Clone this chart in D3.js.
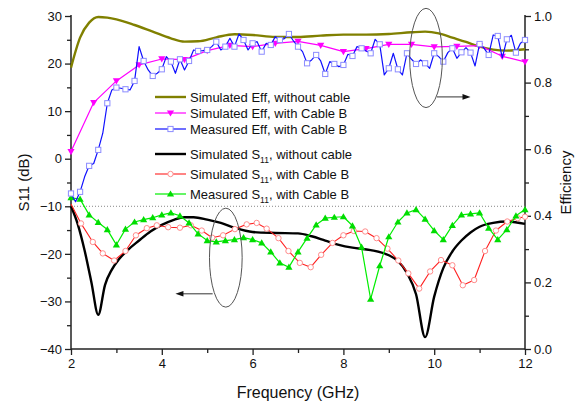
<!DOCTYPE html>
<html><head><meta charset="utf-8">
<script src="https://cdn.jsdelivr.net/npm/d3@7"></script>
<style>body{margin:0;background:#fff}svg{display:block;font-family:"Liberation Sans",Arial,sans-serif}</style>
</head><body><svg id="c" width="579" height="409"></svg>
<script>
// ---- data ----
const xTicks = [2,4,6,8,10,12];
const xMinor = [3,5,7,9,11];
const yLTicks = [-40,-30,-20,-10,0,10,20,30];
const yLMinor = [-35,-25,-15,-5,5,15,25];
const yRTicks = [0,0.2,0.4,0.6,0.8,1.0];
const yRMinor = [0.1,0.3,0.5,0.7,0.9];

// Simulated Eff, without cable (efficiency)
const effNoCableF = [2.0,2.2,2.4,2.6,2.8,3.0,3.4,3.8,4.2,4.5,4.8,5.2,5.6,6.0,6.5,7.0,7.5,8.0,8.5,9.0,9.5,9.8,10.1,10.4,10.7,11.0,11.3,11.6,12.0];
const effNoCable  = [0.845,0.935,0.980,0.997,0.995,0.990,0.973,0.953,0.933,0.923,0.924,0.936,0.945,0.943,0.937,0.937,0.941,0.944,0.944,0.946,0.951,0.953,0.948,0.935,0.922,0.908,0.899,0.896,0.900];

// Simulated Eff, with Cable B
const effSimBF = [2.0,2.5,3.0,3.5,4.0,4.5,5.0,5.5,6.0,6.5,7.0,7.5,8.0,8.5,9.0,9.5,10.0,10.5,11.0,11.5,12.0];
const effSimB  = [0.593,0.740,0.805,0.853,0.871,0.869,0.896,0.912,0.908,0.918,0.924,0.912,0.893,0.902,0.915,0.915,0.907,0.909,0.911,0.879,0.862];

// Measured Eff, with Cable B
const effMeasBF = [2.0,2.1,2.2,2.3,2.4,2.5,2.6,2.7,2.8,2.9,3.0,3.1,3.2,3.3,3.4,3.5,3.6,3.7,3.8,3.9,4.0,4.1,4.2,4.3,4.4,4.5,4.6,4.7,4.8,4.9,5.0,5.1,5.2,5.3,5.4,5.5,5.6,5.7,5.8,5.9,6.0,6.1,6.2,6.3,6.4,6.5,6.6,6.7,6.8,6.9,7.0,7.1,7.2,7.3,7.4,7.5,7.6,7.7,7.8,7.9,8.0,8.1,8.2,8.3,8.4,8.5,8.6,8.7,8.8,8.9,9.0,9.1,9.2,9.3,9.4,9.5,9.6,9.7,9.8,9.9,10.0,10.1,10.2,10.3,10.4,10.5,10.6,10.7,10.8,10.9,11.0,11.1,11.2,11.3,11.4,11.5,11.6,11.7,11.8,11.9,12.0];
const effMeasB  = [0.467,0.442,0.472,0.517,0.550,0.557,0.598,0.648,0.738,0.778,0.785,0.783,0.780,0.778,0.805,0.908,0.865,0.838,0.820,0.828,0.840,0.878,0.863,0.828,0.870,0.838,0.865,0.898,0.895,0.896,0.898,0.908,0.923,0.898,0.908,0.933,0.908,0.946,0.928,0.898,0.918,0.923,0.893,0.918,0.913,0.938,0.928,0.932,0.946,0.925,0.908,0.893,0.858,0.868,0.883,0.865,0.826,0.863,0.856,0.848,0.853,0.885,0.880,0.908,0.903,0.895,0.888,0.930,0.915,0.823,0.843,0.888,0.840,0.823,0.888,0.870,0.856,0.868,0.858,0.843,0.888,0.878,0.863,0.890,0.903,0.873,0.891,0.905,0.890,0.850,0.916,0.903,0.883,0.943,0.940,0.874,0.930,0.942,0.890,0.918,0.928];

// Simulated S11, without cable (dB)
const s11NoCableF = [2.0,2.15,2.3,2.45,2.6,2.75,2.9,3.05,3.25,3.5,3.75,4.0,4.25,4.5,4.7,5.0,5.3,5.6,6.0,6.5,7.0,7.3,7.6,7.9,8.2,8.6,9.0,9.2,9.4,9.6,9.8,10.0,10.2,10.4,10.6,10.8,11.0,11.3,11.6,12.0];
const s11NoCable  = [-10.0,-13.8,-19.3,-26.0,-32.8,-26.5,-23.3,-21.2,-19.2,-17.2,-15.3,-13.9,-12.9,-12.3,-12.3,-12.8,-13.5,-14.5,-15.4,-15.6,-15.7,-16.3,-17.2,-18.1,-18.7,-19.2,-20.3,-21.5,-24.0,-28.5,-37.5,-29.0,-23.0,-19.5,-17.2,-15.5,-14.3,-13.5,-13.2,-13.7];

// Simulated S11, with Cable B
const s11SimBF = [2.0,2.22,2.48,2.70,2.95,3.20,3.43,3.67,3.89,4.14,4.40,4.64,4.88,5.11,5.35,5.61,5.87,6.09,6.31,6.57,6.79,7.04,7.28,7.51,7.76,8.00,8.23,8.48,8.73,8.97,9.21,9.43,9.67,9.91,10.15,10.40,10.63,10.88,11.12,11.36,11.61,11.84,12.0];
const s11SimB  = [-9.5,-13.6,-17.5,-19.9,-21.4,-19.4,-16.1,-14.6,-14.0,-14.4,-14.5,-14.0,-15.1,-16.6,-16.1,-14.8,-13.8,-13.5,-14.7,-16.7,-19.4,-21.9,-22.8,-20.2,-17.7,-16.1,-15.2,-15.3,-16.7,-18.9,-21.4,-24.1,-27.3,-23.7,-21.3,-22.4,-26.6,-25.5,-19.4,-15.1,-13.2,-12.5,-12.2];

// Measured S11, with Cable B
const s11MeasBF = [2.0,2.2,2.4,2.6,2.8,3.0,3.2,3.4,3.6,3.8,4.0,4.2,4.4,4.6,4.8,5.0,5.2,5.4,5.6,5.8,6.0,6.2,6.4,6.6,6.8,7.0,7.2,7.4,7.6,7.8,8.0,8.2,8.4,8.6,8.8,9.0,9.2,9.4,9.6,9.8,10.0,10.2,10.4,10.6,10.8,11.0,11.2,11.4,11.6,11.8,12.0];
const s11MeasB  = [-8.2,-8.5,-11.8,-13.4,-14.9,-18.1,-14.8,-13.3,-12.8,-12.4,-11.8,-11.4,-12.0,-13.5,-15.8,-17.2,-17.5,-17.2,-17.0,-16.6,-17.0,-17.7,-19.6,-21.9,-22.8,-19.6,-16.7,-13.9,-12.5,-12.3,-12.2,-14.1,-18.6,-29.5,-22.5,-16.4,-13.3,-11.4,-10.7,-12.7,-15.1,-17.0,-14.0,-11.8,-11.6,-11.4,-14.6,-17.0,-14.9,-12.0,-10.7];

const legendLabels = [
  ["Simulated Eff, without cable"],
  ["Simulated Eff, with Cable B"],
  ["Measured Eff, with Cable B"],
  ["Simulated S", "11", ", without cable"],
  ["Simulated S", "11", ", with Cable B"],
  ["Measured S", "11", ", with Cable B"]
];

// ---- scales ----
const svg = d3.select("#c");
const x = d3.scaleLinear().domain([2,12]).range([71,525]);
const yL = d3.scaleLinear().domain([-40,30]).range([349,16]);
const yR = d3.scaleLinear().domain([0,1]).range([349,16]);

const axisColor = "#222";
function styleAxis(g){
  g.select(".domain").remove();
  g.selectAll("line").attr("stroke",axisColor).attr("stroke-width",1.3);
  g.selectAll("text").attr("fill","#111").style("font-size","13px").style("font-family","'Liberation Sans',Arial,sans-serif");
}
// left
svg.append("g").attr("transform","translate(71,0)").call(d3.axisLeft(yL).tickValues(yLTicks).tickSize(6).tickPadding(3)).call(styleAxis);
svg.append("g").attr("transform","translate(71,0)").call(d3.axisLeft(yL).tickValues(yLMinor).tickSize(4).tickFormat("")).call(styleAxis);
// bottom
svg.append("g").attr("transform","translate(0,349)").call(d3.axisBottom(x).tickValues(xTicks).tickSize(6).tickPadding(4)).call(styleAxis);
svg.append("g").attr("transform","translate(0,349)").call(d3.axisBottom(x).tickValues(xMinor).tickSize(4).tickFormat("")).call(styleAxis);
// right
svg.append("g").attr("transform","translate(525,0)").call(d3.axisRight(yR).tickValues(yRTicks).tickSize(6).tickPadding(3).tickFormat(d3.format(".1f"))).call(styleAxis);
svg.append("g").attr("transform","translate(525,0)").call(d3.axisRight(yR).tickValues(yRMinor).tickSize(4).tickFormat("")).call(styleAxis);

// axis lines
svg.append("line").attr("x1",x(2)).attr("x2",x(2)).attr("y1",yL(30)-1).attr("y2",yL(-40)+0.6).attr("stroke",axisColor).attr("stroke-width",1.5);
svg.append("line").attr("x1",x(12)).attr("x2",x(12)).attr("y1",yR(1)-1).attr("y2",yR(0)+0.6).attr("stroke",axisColor).attr("stroke-width",1.5);
svg.append("line").attr("x1",x(2)).attr("x2",x(12)).attr("y1",yL(-40)).attr("y2",yL(-40)).attr("stroke",axisColor).attr("stroke-width",1.5);

// -10 dB dotted reference
svg.append("line").attr("x1",x(2)).attr("x2",x(12)).attr("y1",yL(-10)).attr("y2",yL(-10))
  .attr("stroke","#888").attr("stroke-width",1).attr("stroke-dasharray","1,2");

// axis titles
svg.append("text").attr("transform",`translate(29,${(yL(30)+yL(-40))/2}) rotate(-90)`).attr("text-anchor","middle")
  .style("font-size","15px").attr("fill","#111").text("S11 (dB)");
svg.append("text").attr("transform",`translate(571,${(yR(1)+yR(0))/2}) rotate(-90)`).attr("text-anchor","middle")
  .style("font-size","15px").attr("fill","#111").text("Efficiency");
svg.append("text").attr("x",(x(2)+x(12))/2).attr("y",398).attr("text-anchor","middle")
  .style("font-size","16px").attr("fill","#111").text("Frequency (GHz)");

// ---- series ----
const series = [
  {fx:effNoCableF, v:effNoCable, y:yR, color:"#808000", w:2.4, curve:d3.curveMonotoneX, marker:null},
  {fx:effSimBF, v:effSimB, y:yR, color:"#ff00ff", w:1.2, curve:d3.curveLinear, marker:"tridown", mcolor:"#ff00ff"},
  {fx:effMeasBF, v:effMeasB, y:yR, color:"#1010ff", w:1.2, curve:d3.curveLinear, marker:"square", mcolor:"#8c8cff", every:2},
  {fx:s11NoCableF, v:s11NoCable, y:yL, color:"#000000", w:2.4, curve:d3.curveMonotoneX, marker:null},
  {fx:s11SimBF, v:s11SimB, y:yL, color:"#ff2020", w:1.1, curve:d3.curveLinear, marker:"circle", mcolor:"#ff8c8c", skipFirst:true},
  {fx:s11MeasBF, v:s11MeasB, y:yL, color:"#00ee00", w:1.2, curve:d3.curveLinear, marker:"triup", mcolor:"#00dd00"}
];

function drawMarker(g, kind, color, px, py){
  if(kind==="circle"){
    g.append("circle").attr("cx",px).attr("cy",py).attr("r",2.7).attr("fill","#fff").attr("stroke",color).attr("stroke-width",1);
  } else if(kind==="square"){
    g.append("rect").attr("x",px-2.6).attr("y",py-2.6).attr("width",5.2).attr("height",5.2).attr("fill","#fff").attr("stroke",color).attr("stroke-width",1);
  } else if(kind==="triup"){
    g.append("path").attr("d",`M${px},${py-3.6}L${px+3.6},${py+2.6}L${px-3.6},${py+2.6}Z`).attr("fill",color);
  } else if(kind==="tridown"){
    g.append("path").attr("d",`M${px},${py+3.6}L${px+3.6},${py-2.6}L${px-3.6},${py-2.6}Z`).attr("fill",color);
  }
}

// draw order: S11 first, eff on top
const order = [3,4,5,0,1,2];
order.forEach(i=>{
  const s = series[i];
  const pts = s.fx.map((f,k)=>[x(f), s.y(s.v[k])]);
  svg.append("path").attr("d", d3.line().curve(s.curve)(pts)).attr("fill","none")
    .attr("stroke",s.color).attr("stroke-width",s.w).attr("stroke-linejoin","round");
  if(s.marker){
    const g = svg.append("g");
    pts.forEach((p,k)=>{
      if(s.every && k % s.every !== 0) return;
      if(s.skipFirst && k===0) return;
      drawMarker(g, s.marker, s.mcolor, p[0], p[1]);
    });
  }
});

// ---- legend ----
const legX0 = 155, legX1 = 186, textX = 190;
const legY = [97,113,129,154,174,194];
const legG = svg.append("g");
series.forEach((s,i)=>{
  const yy = legY[i];
  legG.append("line").attr("x1",legX0).attr("x2",legX1).attr("y1",yy).attr("y2",yy).attr("stroke",s.color).attr("stroke-width",s.w);
  if(s.marker) drawMarker(legG, s.marker, s.mcolor, (legX0+legX1)/2, yy);
  const t = legG.append("text").attr("x",textX).attr("y",yy+4.5).style("font-size","13px").attr("fill","#111");
  const parts = legendLabels[i];
  t.append("tspan").text(parts[0]);
  if(parts.length>1){
    t.append("tspan").attr("dy",4).style("font-size","8.5px").text(parts[1]);
    t.append("tspan").attr("dy",-4).text(parts[2]);
  }
});

// ---- annotations (ellipses + arrows) in data coords ----
const ellEff = {f:9.82, v:0.874, rf:0.36, rv:0.149};
const arrEff = {f0:10.06, f1:10.80, v:0.757};
const ellS11 = {f:5.41, v:-20.8, rf:0.36, rv:10.4};
const arrS11 = {f0:5.12, f1:4.30, v:-28.4};

svg.append("ellipse").attr("cx",x(ellEff.f)).attr("cy",yR(ellEff.v))
  .attr("rx",x(ellEff.f+ellEff.rf)-x(ellEff.f)).attr("ry",yR(ellEff.v-ellEff.rv)-yR(ellEff.v))
  .attr("fill","none").attr("stroke","#555").attr("stroke-width",1);
svg.append("ellipse").attr("cx",x(ellS11.f)).attr("cy",yL(ellS11.v))
  .attr("rx",x(ellS11.f+ellS11.rf)-x(ellS11.f)).attr("ry",yL(ellS11.v-ellS11.rv)-yL(ellS11.v))
  .attr("fill","none").attr("stroke","#555").attr("stroke-width",1);

function arrow(x0,x1,yy){
  const dir = Math.sign(x1-x0);
  svg.append("line").attr("x1",x0).attr("x2",x1-dir*6).attr("y1",yy).attr("y2",yy).attr("stroke","#333").attr("stroke-width",1);
  svg.append("path").attr("d",`M${x1},${yy}L${x1-dir*8},${yy-2.8}L${x1-dir*8},${yy+2.8}Z`).attr("fill","#111");
}
arrow(x(arrEff.f0), x(arrEff.f1), yR(arrEff.v));
arrow(x(arrS11.f0), x(arrS11.f1), yL(arrS11.v));
</script></body></html>
